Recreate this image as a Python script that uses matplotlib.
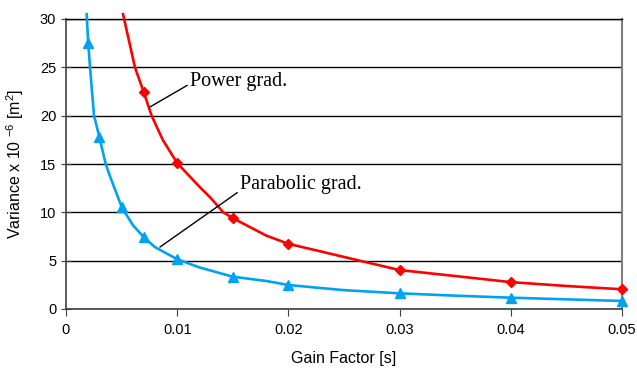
import matplotlib
matplotlib.use("Agg")
import matplotlib.pyplot as plt

plt.rcParams['font.family'] = ['Liberation Sans', 'DejaVu Sans']
plt.rcParams['mathtext.default'] = 'regular'

# marker points
power_x = [0.007, 0.01, 0.015, 0.02, 0.03, 0.04, 0.05]
power_y = [22.4, 15.1, 9.4, 6.74, 4.03, 2.78, 2.04]
parab_x = [0.002, 0.003, 0.005, 0.007, 0.01, 0.015, 0.02, 0.03, 0.04, 0.05]
parab_y = [27.5, 17.8, 10.58, 7.42, 5.15, 3.34, 2.48, 1.62, 1.17, 0.83]

# curve points
power_line_x = [0.00513, 0.0062, 0.007, 0.0077, 0.0087, 0.010, 0.012, 0.013, 0.01415,
                0.015, 0.018, 0.020, 0.023, 0.0264, 0.030, 0.035, 0.040, 0.045, 0.050]
power_line_y = [30.5, 25.0, 22.4, 20.0, 17.5, 15.1, 12.65, 11.5, 10.0,
                9.4, 7.6, 6.74, 5.93, 5.0, 4.03, 3.41, 2.78, 2.38, 2.04]
parab_line_x = [0.00186, 0.002, 0.00216, 0.00252, 0.003, 0.00357, 0.004, 0.005, 0.0053,
                0.006, 0.007, 0.008, 0.010, 0.012, 0.015, 0.018, 0.020, 0.025,
                0.030, 0.035, 0.040, 0.045, 0.050]
parab_line_y = [30.5, 27.5, 25.0, 20.0, 17.8, 15.0, 13.6, 10.58, 10.0,
                8.7, 7.42, 6.4, 5.15, 4.3, 3.34, 2.9, 2.48, 1.95,
                1.62, 1.38, 1.17, 1.0, 0.83]

red = '#FF0000'
blue = '#00A2F2'

fig = plt.figure(figsize=(6.37, 3.71), dpi=100)
ax = fig.add_axes([66/637, 1 - 309/371, (622-66)/637, (309-19)/371])

ax.plot(power_line_x, power_line_y, color=red, lw=1.9, clip_on=False, zorder=3)
ax.plot(power_x, power_y, 'D', color=red, ms=5, clip_on=False, zorder=4)
ax.plot(parab_line_x, parab_line_y, color=blue, lw=1.9, clip_on=False, zorder=3)
ax.plot(parab_x, parab_y, '^', color=blue, ms=7, clip_on=False, zorder=4)

ax.set_xlim(0, 0.05)
ax.set_ylim(0, 30)
ax.set_xticks([0, 0.01, 0.02, 0.03, 0.04, 0.05])
ax.set_xticklabels(['0', '0.01', '0.02', '0.03', '0.04', '0.05'])
ax.set_yticks(range(0, 31, 5))
ax.yaxis.grid(True, color='black', lw=1)
ax.set_axisbelow(True)

for s in ['left', 'bottom']:
    ax.spines[s].set_color('#404040')
    ax.spines[s].set_linewidth(1.2)
ax.spines['top'].set_color('black')
ax.spines['top'].set_linewidth(1)
ax.spines['right'].set_color('#808080')
ax.spines['right'].set_linewidth(1.5)

ax.tick_params(axis='y', direction='inout', length=7, labelsize=10.5, color='#404040')
ax.tick_params(axis='x', direction='out', length=5, labelsize=10.5, pad=5, color='#404040')

ax.set_xlabel('Gain Factor [s]', fontsize=11.5, labelpad=10)
ax.set_ylabel('Variance x 10 $^{-6}$ [m$^{2}$]', fontsize=11.5, labelpad=10)

ax.annotate('Power grad.', xy=(0.00755, 20.9), xytext=(0.01115, 23.5),
            fontsize=14.5, family='Liberation Serif', va='center',
            arrowprops=dict(arrowstyle='-', color='black', lw=1,
                            shrinkA=0, shrinkB=0, relpos=(0, 0.4)))
ax.annotate('Parabolic grad.', xy=(0.00845, 6.41), xytext=(0.01565, 12.83),
            fontsize=14.5, family='Liberation Serif', va='center',
            arrowprops=dict(arrowstyle='-', color='black', lw=1,
                            shrinkA=0, shrinkB=0, relpos=(0, 0.2)))

plt.savefig('out.png', dpi=100)
